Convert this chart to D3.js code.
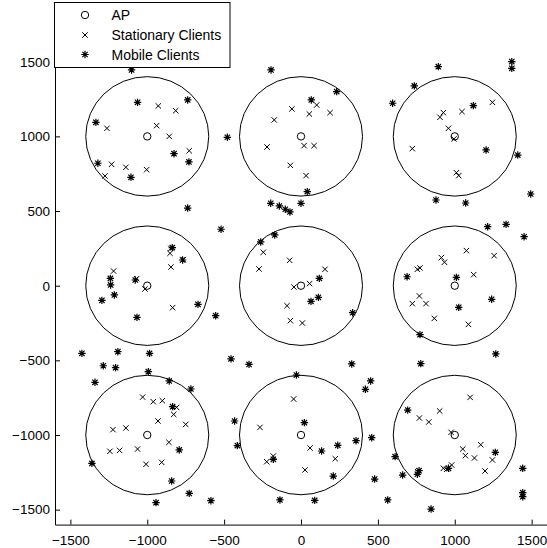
<!DOCTYPE html>
<html>
<head>
<meta charset="utf-8">
<script src="https://cdn.jsdelivr.net/npm/d3@7"></script>
<style>
  body { margin: 0; background: #fff; }
  svg { display: block; font-family: "Liberation Sans", Arial, sans-serif; }
</style>
</head>
<body>
<svg width="547" height="548"></svg>
<script>
// access points, one per cell
let apPoints = [
  [-1000, 1000], [0, 1000], [1000, 1000],
  [-1000, 0], [0, 0], [1000, 0],
  [-1000, -1000], [0, -1000], [1000, -1000]
]
let cellRadius = 400

let stationaryPoints = [
  [-928, 1204], [-815, 1172], [-1262, 1054], [-939, 1072], [-857, 1000], [-727, 904], [-1232, 813], [-1139, 793], [-1004, 777], [-1275, 735],
  [102, 1210], [-59, 1184], [54, 1150], [189, 1159], [-174, 1110], [20, 938], [85, 938], [-221, 929], [-69, 806], [33, 737],
  [1245, 1228], [926, 1159], [904, 1128], [1047, 1166], [959, 1054], [995, 983], [724, 918], [1011, 757], [1026, 737],
  [-846, 250], [-852, 217], [-766, 175], [-846, 125], [-1219, 98], [-1069, 47], [-1015, -22], [-835, -147],
  [-245, 224], [-74, 170], [-273, 112], [156, 110], [-46, -9], [56, 14], [-91, -134], [-69, -234], [9, -250],
  [1076, 235], [1256, 201], [913, 188], [933, 157], [774, 119], [757, 110], [1123, 74], [770, -69], [724, -120], [813, -120], [867, -219], [1089, -259],
  [-1030, -746], [-961, -777], [-902, -770], [-809, -815], [-828, -862], [-930, -906], [-750, -929], [-1223, -964], [-1139, -953], [-859, -1049],
  [-1243, -1109], [-1180, -1103], [-1063, -1094], [-1008, -1196], [-906, -1183],
  [-48, -759], [-267, -949], [59, -1087], [223, -1159], [-180, -1141], [-223, -1179], [26, -1234],
  [1100, -748], [902, -839], [770, -886], [831, -913], [976, -982], [1169, -1065], [1052, -1094], [1069, -1138], [1128, -1154], [1245, -1167],
  [980, -1201], [926, -1223], [948, -1230], [1197, -1241], [759, -1246]
]

let mobilePoints = [
  [-1102, 1445], [-1063, 1228], [-737, 1244], [-1334, 1094], [-826, 884], [-729, 829], [-1321, 820], [-1106, 726], [-479, 994], [-737, 520],
  [-195, 1445], [232, 1300], [67, 1244], [41, 630],
  [-197, 552], [-141, 534], [-102, 512], [-72, 494], [0, 552], [-520, 378], [-262, 293], [-171, 340], [119, 49], [113, -78], [65, -105], [336, -181], [-455, -490],
  [1371, 1501], [1371, 1456], [893, 1467], [737, 1338], [596, 1222], [1121, 1206], [1204, 909], [1410, 875], [1494, 614], [878, 574], [1071, 554],
  [-837, 255], [-770, 172], [-1240, 49], [-1238, 5], [-1078, 38], [-1214, -62], [-1295, -98], [-1067, -212], [-670, -125], [-555, -201], [-1425, -453], [-1191, -442], [-985, -453],
  [1214, 395], [1334, 411], [1451, 328], [690, 60], [1011, 56], [1240, -91], [1026, -145], [774, -328], [1267, -457],
  [-1286, -536], [-1206, -549], [-993, -576], [-1340, -647], [-857, -638], [-716, -692], [-835, -810], [-792, -1100], [-1360, -1190], [-841, -1308], [-727, -1391], [-943, -1453], [-586, -1440],
  [-338, -527], [330, -524], [-30, -598], [453, -638], [419, -694], [-432, -906], [22, -917], [-414, -1071], [358, -1038], [460, -1018], [239, -1069],
  [134, -1107], [-180, -1163], [210, -1275], [479, -1295], [-137, -1435], [89, -1438], [564, -1435],
  [779, -522], [694, -833], [1264, -1116], [612, -1145], [1442, -1223], [768, -1239], [757, -1263], [661, -1268], [959, -1223], [1442, -1386], [1442, -1413], [846, -1496]
]

let xTicks = [-1500, -1000, -500, 0, 500, 1000, 1500]
let yTicks = [-1500, -1000, -500, 0, 500, 1000, 1500]
let legendLabels = ['AP', 'Stationary Clients', 'Mobile Clients']

let svg = d3.select('svg')

let x = d3.scaleLinear().domain([-1600, 1600]).range([55, 547])
let y = d3.scaleLinear().domain([-1600, 1900]).range([524.6, 2])

// marker shapes, drawn as paths around 0,0
function crossPath (s) {
  return `M${-s},${-s}L${s},${s}M${-s},${s}L${s},${-s}`
}
function starPath (s) {
  let d = s * 0.72
  return `M${-s},0L${s},0M0,${-s}L0,${s}M${-d},${-d}L${d},${d}M${-d},${d}L${d},${-d}`
}

// cell circles (in data units, so slightly elliptical on screen)
svg.append('g')
  .selectAll('ellipse')
  .data(apPoints)
  .enter().append('ellipse')
  .attr('cx', (d) => x(d[0]))
  .attr('cy', (d) => y(d[1]))
  .attr('rx', x(cellRadius) - x(0))
  .attr('ry', y(0) - y(cellRadius))
  .attr('fill', 'none')
  .attr('stroke', '#000')
  .attr('stroke-width', 1)

let markers = svg.append('g')
  .attr('fill', 'none')
  .attr('stroke', '#000')
  .attr('stroke-width', 1)

markers.selectAll('.ap')
  .data(apPoints)
  .enter().append('circle')
  .attr('class', 'ap')
  .attr('cx', (d) => x(d[0]))
  .attr('cy', (d) => y(d[1]))
  .attr('r', 3.7)

markers.selectAll('.st')
  .data(stationaryPoints)
  .enter().append('path')
  .attr('class', 'st')
  .attr('d', crossPath(2.7))
  .attr('transform', (d) => `translate(${x(d[0])},${y(d[1])})`)

markers.selectAll('.mb')
  .data(mobilePoints)
  .enter().append('path')
  .attr('class', 'mb')
  .attr('d', starPath(3.7))
  .attr('stroke-width', 1.2)
  .attr('transform', (d) => `translate(${x(d[0])},${y(d[1])})`)

// axes, ticks pointing inward
let fmt = d3.format('d')
svg.append('g')
  .attr('transform', `translate(0,${y(-1600)})`)
  .call(d3.axisBottom(x).tickValues(xTicks).tickFormat(fmt).tickSizeInner(-5).tickSizeOuter(0).tickPadding(11))
svg.append('g')
  .attr('transform', `translate(${x(-1600)},0)`)
  .call(d3.axisLeft(y).tickValues(yTicks).tickFormat(fmt).tickSizeInner(-5).tickSizeOuter(0).tickPadding(5))

svg.selectAll('.domain, .tick line').attr('stroke', '#000')
svg.selectAll('.tick text')
  .attr('fill', '#000')
  .style('font-size', '13.5px')

// legend
let legend = svg.append('g')
legend.append('rect')
  .attr('x', 54.5)
  .attr('y', 2.5)
  .attr('width', 175.5)
  .attr('height', 65)
  .attr('fill', '#fff')
  .attr('stroke', '#000')

let rowY = [15, 35, 54.5]
let shapes = [null, crossPath(2.7), starPath(3.7)]
legendLabels.forEach((label, i) => {
  if (i === 0) {
    legend.append('circle')
      .attr('cx', 85).attr('cy', rowY[i]).attr('r', 3.7)
      .attr('fill', 'none').attr('stroke', '#000')
  } else {
    legend.append('path')
      .attr('d', shapes[i])
      .attr('transform', `translate(85,${rowY[i]})`)
      .attr('fill', 'none').attr('stroke', '#000')
      .attr('stroke-width', i === 2 ? 1.2 : 1)
  }
  legend.append('text')
    .attr('x', 111.5)
    .attr('y', rowY[i])
    .attr('dy', '0.36em')
    .style('font-size', '14px')
    .text(label)
})
</script>
</body>
</html>
